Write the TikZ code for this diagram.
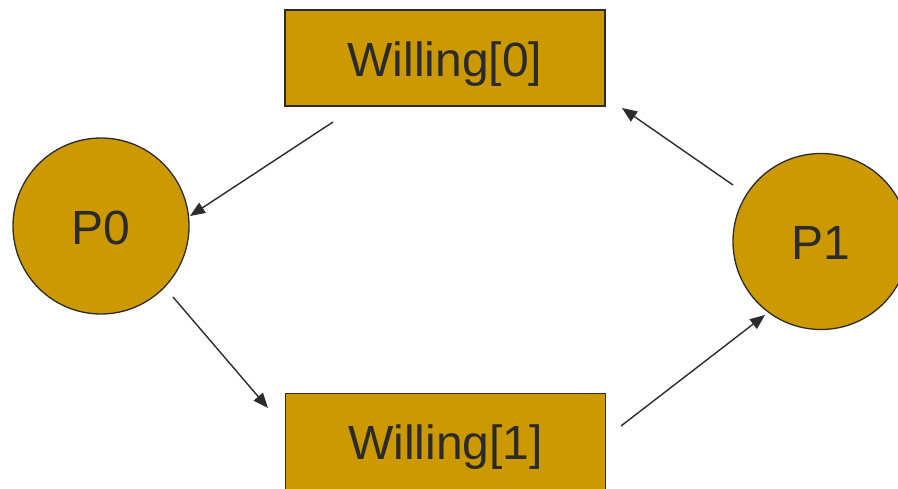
\documentclass[tikz,border=0pt]{standalone}
\usepackage{fontspec}
\setmainfont{Liberation Sans}
\usetikzlibrary{arrows.meta}
\definecolor{gold}{HTML}{CC9900}
\definecolor{ink}{HTML}{2B2B2B}
\tikzset{
  varbox/.style={draw=ink, line width=1.6pt, fill=gold, minimum width=320pt, minimum height=96pt, inner sep=0pt, text=ink, text height=40pt, text depth=4pt, font=\fontsize{48}{50}\selectfont},
  proc/.style={draw=ink, line width=1.3pt, fill=gold, circle, minimum size=176pt, inner sep=0pt, text=ink, text height=40pt, text depth=4pt, font=\fontsize{48}{50}\selectfont},
  conn/.style={draw=ink, line width=1.4pt, -{Triangle[length=15pt,width=12pt]}}
}
\begin{document}
\begin{tikzpicture}[x=1pt,y=-1pt]
\useasboundingbox (0,0) rectangle (898,488);
\clip (0,0) rectangle (898,488);
\node[varbox] (w0) at (445,58) {Willing[0]};
\node[varbox] (w1) at (445.5,441.5) {Willing[1]};
\node[proc] (p0) at (101,226) {P0};
\node[proc] (p1) at (821,241.5) {P1};
\coordinate (a1s) at (333,122); \coordinate (a1e) at (190,216);
\coordinate (a2s) at (173,297); \coordinate (a2e) at (268,408);
\coordinate (a3s) at (621,426); \coordinate (a3e) at (765,315);
\coordinate (a4s) at (733,185); \coordinate (a4e) at (622,108);
\draw[conn] (a1s) -- (a1e);
\draw[conn] (a2s) -- (a2e);
\draw[conn] (a3s) -- (a3e);
\draw[conn] (a4s) -- (a4e);
\end{tikzpicture}
\end{document}
